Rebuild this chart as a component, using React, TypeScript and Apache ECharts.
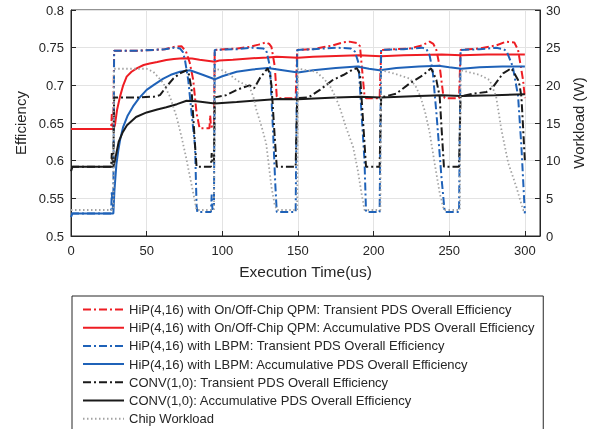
import React, { useEffect, useRef } from "react";
import * as echarts from "echarts";

// ---- Data (time in us, efficiency as fraction, workload in W) ----
const names = [
  "HiP(4,16) with On/Off-Chip QPM: Transient PDS Overall Efficiency",
  "HiP(4,16) with On/Off-Chip QPM: Accumulative PDS Overall Efficiency",
  "HiP(4,16) with LBPM: Transient PDS Overall Efficiency",
  "HiP(4,16) with LBPM: Accumulative PDS Overall Efficiency",
  "CONV(1,0): Transient PDS Overall Efficiency",
  "CONV(1,0): Accumulative PDS Overall Efficiency",
  "Chip Workload",
];

const xTicks = [0, 50, 100, 150, 200, 250, 300];

const qpmTransient: number[][] = [
  [0, 0.642], [26.5, 0.642], [27, 0.662], [27.5, 0.645], [28, 0.648], [28.5, 0.746], [45, 0.746], [55, 0.747],
  [62, 0.748], [68, 0.751], [73, 0.752], [76, 0.745], [78.5, 0.73], [80.8, 0.707], [83, 0.663], [85, 0.643],
  [91.5, 0.643], [92, 0.66], [92.5, 0.645], [94.5, 0.646], [95, 0.747], [110, 0.749], [118, 0.751], [124, 0.754],
  [129, 0.757], [131, 0.755], [132.5, 0.751], [134.7, 0.725], [136, 0.685], [137, 0.683], [148.5, 0.683],
  [149.5, 0.747], [160, 0.748], [173, 0.753], [180, 0.757], [184, 0.758], [189, 0.756], [191, 0.752], [192, 0.73],
  [194, 0.686], [195, 0.683], [204, 0.683], [205, 0.747], [215, 0.748], [224, 0.749], [232, 0.753], [237, 0.758],
  [239.5, 0.755], [241.5, 0.747], [243.7, 0.725], [246, 0.688], [247, 0.683], [256.5, 0.683], [257.5, 0.747],
  [270, 0.749], [281, 0.753], [287.7, 0.758], [293, 0.757], [295.5, 0.747], [298.8, 0.707], [300, 0.683],
];

const qpmAccum: number[][] = [
  [0, 0.642], [28, 0.642], [29, 0.647], [30.5, 0.668], [32.4, 0.685], [34.5, 0.7], [36.8, 0.7115], [40, 0.718],
  [43.4, 0.7226], [48, 0.727], [52, 0.729], [57, 0.731], [63, 0.7336], [68, 0.735], [74, 0.736], [80, 0.7355],
  [85, 0.734], [95, 0.7314], [98, 0.733], [107, 0.734], [120, 0.736], [130, 0.737], [136, 0.738], [150, 0.7365],
  [160, 0.738], [175, 0.739], [190, 0.74], [205, 0.7385], [220, 0.74], [245, 0.741], [258, 0.74], [275, 0.741],
  [300, 0.741],
];

const lbpmTransient: number[][] = [
  [0, 0.53], [26.5, 0.53], [27, 0.56], [27.5, 0.535], [28, 0.545], [28.5, 0.746], [45, 0.746], [55, 0.747],
  [62, 0.748], [68, 0.75], [72, 0.749], [74, 0.744], [75.3, 0.734], [77.5, 0.707], [79.7, 0.663], [82, 0.619],
  [83, 0.54], [83.5, 0.532], [92.5, 0.532], [93, 0.555], [93.5, 0.535], [94.5, 0.54], [95, 0.747], [110, 0.748],
  [120, 0.75], [127, 0.749], [129, 0.747], [131.5, 0.725], [133.6, 0.6375], [135, 0.57], [136, 0.532],
  [148.5, 0.532], [149.5, 0.747], [160, 0.748], [175, 0.75], [185, 0.749], [187.6, 0.745], [190, 0.73],
  [192, 0.664], [194, 0.6], [195, 0.532], [204, 0.532], [205, 0.747], [220, 0.748], [232, 0.75], [235, 0.748],
  [237, 0.74], [239, 0.72], [241.5, 0.664], [245, 0.575], [247, 0.532], [256.5, 0.532], [257.5, 0.747],
  [270, 0.748], [281, 0.75], [286, 0.748], [288, 0.745], [292, 0.725], [295.5, 0.686], [297.7, 0.619], [300, 0.53],
];

const lbpmAccum: number[][] = [
  [0, 0.525], [1, 0.53], [28, 0.53], [28.7, 0.56], [30, 0.595], [31.3, 0.614], [32.5, 0.628], [34.5, 0.645],
  [37.5, 0.66], [41, 0.672], [45, 0.683], [50, 0.694], [55, 0.701], [61, 0.709], [66, 0.714], [72, 0.718],
  [78.6, 0.72], [87, 0.714], [95, 0.708], [100, 0.712], [109.5, 0.718], [120, 0.721], [130, 0.723], [140, 0.72],
  [150, 0.717], [160, 0.72], [175, 0.723], [189, 0.725], [197, 0.722], [204, 0.72], [215, 0.723], [230, 0.725],
  [243, 0.726], [250, 0.724], [258, 0.722], [270, 0.724], [285, 0.725], [300, 0.725],
];

const convTransient: number[][] = [
  [0, 0.592], [26.5, 0.592], [27, 0.61], [27.5, 0.595], [28, 0.6], [28.5, 0.684], [45, 0.684], [55, 0.685],
  [58.8, 0.687], [63, 0.698], [67.6, 0.709], [72, 0.716], [76.4, 0.72], [78, 0.714], [79.7, 0.694], [80.8, 0.658],
  [82, 0.62], [83, 0.592], [92.5, 0.592], [93, 0.61], [93.5, 0.597], [94.5, 0.598], [95, 0.684], [102.8, 0.687],
  [109.5, 0.694], [118, 0.7], [121, 0.696], [125, 0.71], [130, 0.7226], [131.5, 0.715], [132.5, 0.7],
  [134.7, 0.63], [136, 0.592], [148.5, 0.592], [149.5, 0.683], [157, 0.684], [164.5, 0.694], [173, 0.707],
  [180, 0.7137], [186.5, 0.7213], [189, 0.7226], [191, 0.715], [192, 0.685], [194, 0.623], [195, 0.592],
  [204, 0.592], [205, 0.684], [215, 0.689], [224, 0.7027], [232.7, 0.7137], [238, 0.7226], [240, 0.714],
  [241.5, 0.707], [243.7, 0.685], [245, 0.641], [246.5, 0.592], [256.5, 0.592], [257.5, 0.685], [265.7, 0.689],
  [274.5, 0.691], [279, 0.698], [285.6, 0.716], [291, 0.7226], [293, 0.716], [295.5, 0.707], [296.5, 0.7],
  [297.7, 0.685], [298.8, 0.645], [300, 0.6],
];

const convAccum: number[][] = [
  [0, 0.586], [1, 0.592], [28, 0.592], [29, 0.6], [30, 0.61], [31.5, 0.625], [34, 0.637], [37, 0.647],
  [43, 0.658], [50, 0.664], [57, 0.668], [63, 0.671], [70, 0.675], [76.4, 0.6796], [83, 0.679], [95, 0.676],
  [109.5, 0.678], [130, 0.681], [137, 0.682], [150, 0.6815], [175, 0.684], [191, 0.685], [205, 0.684],
  [230, 0.686], [245, 0.687], [258, 0.686], [280, 0.687], [300, 0.688],
];

const chipWorkload: number[][] = [
  [0, 3.45], [28, 3.45], [28.3, 22.2], [50, 22.2], [54.4, 21.8], [58, 21.0], [61, 20.3], [65.4, 18.5],
  [69.8, 15.8], [73, 13.2], [76, 10.5], [78.6, 7.9], [81, 5.5], [83, 3.45], [94.5, 3.45], [95, 22.2],
  [100, 22.0], [105, 21.4], [110, 20.6], [118, 19.8], [120.5, 18.5], [122.6, 16.7], [126, 14.5], [129, 12.3],
  [132.5, 6.5], [134.5, 4.3], [136, 3.45], [149.5, 3.45], [150, 22.2], [156, 22.0], [162, 21.8], [167, 20.9],
  [171, 20.0], [174.5, 18.6], [177.7, 17.0], [182, 14.3], [186.5, 11.8], [189.5, 8.8], [192, 5.7], [194, 3.45],
  [204.5, 3.45], [205, 22.0], [213, 21.6], [219, 21.2], [224, 20.9], [228, 19.8], [231, 18.5], [234, 16.5],
  [237, 13.8], [240.4, 9.6], [243.7, 5.7], [246.5, 3.45], [257, 3.45], [257.5, 22.0], [264, 21.7], [270, 21.4],
  [276.7, 20.7], [281, 18.5], [284.5, 14.1], [289, 9.7], [294.4, 6.5], [298.8, 3.45], [300, 3.45],
];

const RED = "#ee1d23";
const BLUE = "#1f62b8";
const BLACK = "#1a1a1a";
const GRAY = "#a3a3a3";
const AXIS = "#262626";
const DASHDOT = [8, 3, 2, 3];
const FONT = "'Liberation Sans', Arial, sans-serif";

export default function App() {
  const ref = useRef<HTMLDivElement>(null);
  useEffect(() => {
    if (!ref.current) return;
    const chart = echarts.init(ref.current, undefined, { renderer: "svg" });
    const line = (name: string, data: number[][], color: string, type: any, yAxisIndex = 0, width = 2) => ({
      name,
      type: "line",
      data,
      yAxisIndex,
      symbol: "none",
      showSymbol: false,
      lineStyle: { color, width, type },
      itemStyle: { color },
    });
    chart.setOption({
      animation: false,
      textStyle: { fontFamily: FONT, color: AXIS },
      grid: { left: 71, right: 57, top: 10, bottom: 193, show: true, borderColor: AXIS, borderWidth: 1 },
      legend: {
        orient: "vertical",
        left: 72,
        top: 296,
        height: 150,
        itemWidth: 41,
        itemHeight: 14,
        itemGap: 5.2,
        padding: [7, 8, 7, 10],
        borderColor: AXIS,
        borderWidth: 1,
        backgroundColor: "#fff",
        itemStyle: { opacity: 0 },
        textStyle: { fontSize: 13, color: AXIS, fontFamily: FONT },
        data: names,
      },
      xAxis: {
        type: "value",
        min: 0,
        max: 310,
        interval: 50,
        name: "Execution Time(us)",
        nameLocation: "middle",
        nameGap: 27,
        nameTextStyle: { fontSize: 15.5, color: AXIS },
        axisLine: { lineStyle: { color: AXIS } },
        axisTick: { inside: true, length: 5, lineStyle: { color: AXIS } },
        axisLabel: {
          fontSize: 13,
          color: AXIS,
          margin: 8,
          formatter: (v: number) => (xTicks.includes(v) ? String(v) : ""),
        },
        splitLine: { show: true, lineStyle: { color: "#e3e3e3" } },
      },
      yAxis: [
        {
          type: "value",
          min: 0.5,
          max: 0.8,
          interval: 0.05,
          name: "Efficiency",
          nameLocation: "middle",
          nameGap: 40,
          nameTextStyle: { fontSize: 15, color: AXIS },
          axisLine: { show: true, lineStyle: { color: AXIS } },
          axisTick: { show: true, inside: true, length: 5, lineStyle: { color: AXIS } },
          axisLabel: { fontSize: 13, color: AXIS, margin: 7, formatter: (v: number) => String(+v.toFixed(2)) },
          splitLine: { show: true, lineStyle: { color: "#e3e3e3" } },
        },
        {
          type: "value",
          min: 0,
          max: 30,
          interval: 5,
          position: "right",
          name: "Workload (W)",
          nameLocation: "middle",
          nameGap: 30,
          nameTextStyle: { fontSize: 15, color: AXIS },
          axisLine: { show: true, lineStyle: { color: AXIS } },
          axisTick: { show: true, inside: true, length: 5, lineStyle: { color: AXIS } },
          axisLabel: { fontSize: 13, color: AXIS, margin: 6 },
          splitLine: { show: false },
        },
      ],
      series: [
        line(names[0], qpmTransient, RED, DASHDOT),
        line(names[1], qpmAccum, RED, "solid"),
        line(names[2], lbpmTransient, BLUE, DASHDOT),
        line(names[3], lbpmAccum, BLUE, "solid"),
        line(names[4], convTransient, BLACK, DASHDOT),
        line(names[5], convAccum, BLACK, "solid"),
        line(names[6], chipWorkload, GRAY, [1.5, 2.5], 1, 1.8),
      ],
    });
    return () => chart.dispose();
  }, []);
  return <div ref={ref} style={{ position: "fixed", left: 0, top: 0, width: 597, height: 429 }} />;
}
